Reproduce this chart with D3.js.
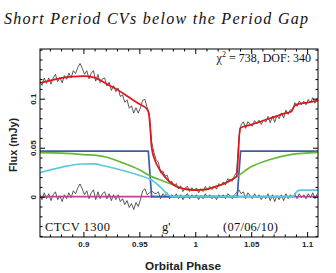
<!DOCTYPE html>
<html><head><meta charset="utf-8">
<script src="https://cdn.jsdelivr.net/npm/d3@7"></script>
<style>body{margin:0;background:#fff}svg{display:block}</style>
</head><body><svg id="c" width="336" height="273"></svg>
<script>
// ---- data ----
const xTicks = [0.9, 0.95, 1, 1.05, 1.1];
const yTicks = [0, 0.05, 0.1];
const title = "Short Period CVs below the Period Gap";
const xLabel = "Orbital Phase";
const yLabel = "Flux (mJy)";

// total model (red)
const redPhase = [0.861,0.870,0.880,0.890,0.900,0.910,0.920,0.930,0.940,0.950,0.956,0.958,0.959,0.960,0.961,0.964,0.968,0.973,0.978,0.983,0.990,1.000,1.010,1.016,1.025,1.032,1.037,1.0385,1.040,1.050,1.067,1.080,1.086,1.088,1.090,1.100,1.110];
const redFlux  = [0.116,0.1185,0.121,0.1225,0.123,0.1215,0.1155,0.1095,0.102,0.0945,0.0905,0.087,0.080,0.065,0.050,0.037,0.028,0.020,0.0145,0.0105,0.008,0.0068,0.0075,0.0095,0.013,0.017,0.021,0.045,0.070,0.0735,0.080,0.085,0.087,0.0915,0.094,0.096,0.098];
// white dwarf (blue)
const wdPhase = [0.861,0.958,0.961,1.0375,1.0405,1.110];
const wdFlux  = [0.0465,0.0465,0,0,0.0465,0.0465];
// disc (green)
const discPhase = [0.861,0.880,0.900,0.919,0.934,0.949,0.960,0.973,0.983,0.990,1.000,1.010,1.016,1.025,1.037,1.050,1.067,1.085,1.110];
const discFlux  = [0.045,0.0445,0.043,0.0408,0.035,0.028,0.021,0.0153,0.011,0.008,0.0068,0.0075,0.0095,0.013,0.0204,0.0306,0.038,0.043,0.0453];
// bright spot (cyan)
const bsPhase = [0.861,0.880,0.898,0.910,0.919,0.949,0.961,0.970,0.976,0.980,1.0875,1.089,1.091,1.094,1.110];
const bsFlux  = [0.0245,0.030,0.0334,0.0335,0.0313,0.0221,0.017,0.0085,0.0017,0,0,0.003,0.0055,0.0068,0.0068];
// zero line for residuals (magenta)
const zeroPhase = [0.861, 1.110];
const zeroFlux = [0, 0];

// observed light curve (black)
const obsPhase = [0.861,0.863,0.865,0.867,0.869,0.871,0.873,0.875,0.877,0.879,0.881,0.883,0.885,0.887,0.889,0.891,0.893,0.895,0.897,0.899,0.901,0.903,0.905,0.907,0.909,0.911,0.913,0.915,0.917,0.919,0.921,0.923,0.925,0.927,0.929,0.931,0.933,0.935,0.937,0.939,0.941,0.943,0.945,0.947,0.949,0.951,0.953,0.955,0.957,0.959,0.961,0.963,0.965,0.967,0.969,0.971,0.973,0.975,0.977,0.979,0.981,0.983,0.985,0.987,0.989,0.991,0.993,0.995,0.997,0.999,1.001,1.003,1.005,1.007,1.009,1.011,1.013,1.015,1.017,1.019,1.021,1.023,1.025,1.027,1.029,1.031,1.033,1.035,1.037,1.039,1.041,1.043,1.045,1.047,1.049,1.051,1.053,1.055,1.057,1.059,1.061,1.063,1.065,1.067,1.069,1.071,1.073,1.075,1.077,1.079,1.081,1.083,1.085,1.087,1.089,1.091,1.093,1.095,1.097,1.099,1.101,1.103,1.105,1.107,1.109];
const obsFlux = [0.118,0.1136,0.1211,0.1157,0.1212,0.1148,0.1213,0.1248,0.1173,0.1218,0.1162,0.1235,0.1198,0.1261,0.1214,0.1286,0.1257,0.1318,0.1359,0.131,0.1249,0.1286,0.1203,0.126,0.1287,0.1179,0.1247,0.1165,0.1203,0.1211,0.1129,0.1167,0.1085,0.1133,0.1071,0.1108,0.1023,0.1038,0.0963,0.0988,0.0903,0.0928,0.0853,0.0908,0.0853,0.0908,0.0985,0.0992,0.0908,0.084,0.056,0.0453,0.0378,0.0353,0.0244,0.0262,0.021,0.0218,0.0136,0.0157,0.0111,0.0135,0.0078,0.0111,0.0053,0.0089,0.0106,0.0054,0.0091,0.0059,0.0089,0.004,0.0082,0.0053,0.0104,0.0068,0.0105,0.0072,0.0109,0.0077,0.0134,0.0112,0.015,0.0121,0.0183,0.0174,0.0158,0.0214,0.025,0.0603,0.0734,0.0764,0.0698,0.0765,0.0742,0.0719,0.0776,0.0743,0.078,0.0737,0.0784,0.0761,0.0818,0.0755,0.0823,0.076,0.0828,0.0796,0.0854,0.0802,0.0883,0.084,0.0887,0.0883,0.0958,0.0922,0.0976,0.094,0.0974,0.0938,0.0992,0.0956,0.101,0.0954,0.1008];
// residuals (black, around zero)
const resid = [0.002,-0.003,0.004,-0.002,0.003,-0.004,0.002,0.005,-0.003,0.001,-0.005,0.002,-0.002,0.004,-0.001,0.006,0.003,0.009,0.013,0.008,0.002,0.006,-0.002,0.004,0.007,-0.003,0.005,-0.002,0.003,0.005,-0.002,0.003,-0.004,0.002,-0.003,0.002,-0.005,-0.002,-0.008,-0.004,-0.011,-0.007,-0.013,-0.006,-0.010,-0.003,0.006,0.008,0.002,0.004,0.006,0.004,0.003,0.005,-0.002,0.003,0.001,0.004,-0.002,0.002,-0.001,0.003,-0.002,0.002,-0.003,0.001,0.003,-0.002,0.002,-0.001,0.002,-0.003,0.001,-0.002,0.003,-0.001,0.002,-0.002,0.001,-0.003,0.002,-0.001,0.002,-0.002,0.003,0.001,-0.002,0.002,0.004,0.007,0.003,0.005,-0.002,0.004,0.001,-0.002,0.003,-0.001,0.002,-0.003,0.001,-0.002,0.003,-0.004,0.002,-0.005,0.001,-0.003,0.002,-0.004,0.003,-0.002,0.002,-0.001,0.003,-0.002,0.003,-0.001,0.002,-0.002,0.003,-0.001,0.004,-0.002,0.003];

// ---- drawing ----
const m = {l: 40, r: 318, t: 49, b: 237};
const svg = d3.select("#c");
const x = d3.scaleLinear().domain([0.8612, 1.1097]).range([m.l, m.r]);
const y = d3.scaleLinear().domain([-0.0411, 0.1507]).range([m.b, m.t]);

svg.append("defs").append("clipPath").attr("id","clip")
  .append("rect").attr("x",m.l).attr("y",m.t).attr("width",m.r-m.l).attr("height",m.b-m.t);

const g = svg.append("g").attr("clip-path","url(#clip)");
const line = (px, py, curve) => d3.line().x((d,i)=>x(px[i])).y((d,i)=>y(py[i])).curve(curve)(py);

g.append("path").attr("d", line(obsPhase, obsFlux, d3.curveLinear))
  .attr("fill","none").attr("stroke","#303030").attr("stroke-width",0.8);
g.append("path").attr("d", line(obsPhase, resid, d3.curveLinear))
  .attr("fill","none").attr("stroke","#303030").attr("stroke-width",0.8);

const models = [
  [zeroPhase, zeroFlux, "#b8449c", d3.curveLinear],
  [wdPhase, wdFlux, "#3c5ea8", d3.curveLinear],
  [bsPhase, bsFlux, "#5ec8de", d3.curveMonotoneX],
  [discPhase, discFlux, "#66b83a", d3.curveMonotoneX],
  [redPhase, redFlux, "#e0161c", d3.curveMonotoneX]
];
models.forEach(([px, py, col, cv]) => {
  g.append("path").attr("d", line(px, py, cv))
    .attr("fill","none").attr("stroke",col).attr("stroke-width",1.7);
});

// frame
svg.append("rect").attr("x",m.l).attr("y",m.t).attr("width",m.r-m.l).attr("height",m.b-m.t)
  .attr("fill","none").attr("stroke","#000").attr("stroke-width",1);

// ticks (inward)
const xMinor = d3.range(87, 111).map(d => d/100).filter(v => !xTicks.some(t => Math.abs(t-v) < 1e-9));
const yMinor = d3.range(-4, 16).map(d => d/100).filter(v => !yTicks.some(t => Math.abs(t-v) < 1e-9));
const tickFont = "'Liberation Sans', Arial, sans-serif";

function styleAxis(sel){ sel.select(".domain").remove(); sel.selectAll("line").attr("stroke","#000").attr("stroke-width",1); }

const xb = svg.append("g").attr("transform",`translate(0,${m.b})`)
  .call(d3.axisBottom(x).tickValues(xTicks).tickSize(-5).tickPadding(4).tickFormat(d => String(d)));
styleAxis(xb);
xb.selectAll("text").attr("font-family",tickFont).attr("font-size",8).attr("font-weight","bold").attr("fill","#222");
svg.append("g").attr("transform",`translate(0,${m.b})`)
  .call(d3.axisBottom(x).tickValues(xMinor).tickSize(-2.5).tickFormat("")).call(styleAxis);
svg.append("g").attr("transform",`translate(0,${m.t})`)
  .call(d3.axisTop(x).tickValues(xTicks).tickSize(-5).tickFormat("")).call(styleAxis);
svg.append("g").attr("transform",`translate(0,${m.t})`)
  .call(d3.axisTop(x).tickValues(xMinor).tickSize(-2.5).tickFormat("")).call(styleAxis);

const yl = svg.append("g").attr("transform",`translate(${m.l},0)`)
  .call(d3.axisLeft(y).tickValues(yTicks).tickSize(-5).tickFormat(d => String(d)));
styleAxis(yl);
yl.selectAll("text").attr("x",null).attr("dy",null).attr("text-anchor","middle")
  .attr("transform","translate(-4,0) rotate(-90)")
  .attr("font-family",tickFont).attr("font-size",8).attr("font-weight","bold").attr("fill","#222");
svg.append("g").attr("transform",`translate(${m.l},0)`)
  .call(d3.axisLeft(y).tickValues(yMinor).tickSize(-2.5).tickFormat("")).call(styleAxis);
svg.append("g").attr("transform",`translate(${m.r},0)`)
  .call(d3.axisRight(y).tickValues(yTicks).tickSize(-5).tickFormat("")).call(styleAxis);
svg.append("g").attr("transform",`translate(${m.r},0)`)
  .call(d3.axisRight(y).tickValues(yMinor).tickSize(-2.5).tickFormat("")).call(styleAxis);

// axis titles
svg.append("text").attr("x",183).attr("y",270).attr("text-anchor","middle")
  .attr("font-family",tickFont).attr("font-size",10.5).attr("font-weight","bold").attr("fill","#222")
  .attr("textLength",76).attr("lengthAdjust","spacingAndGlyphs").text(xLabel);
svg.append("text").attr("transform","translate(17,145) rotate(-90)").attr("text-anchor","middle")
  .attr("font-family",tickFont).attr("font-size",10).attr("font-weight","bold").attr("fill","#222")
  .attr("textLength",54).attr("lengthAdjust","spacingAndGlyphs").text(yLabel);

// title
svg.append("text").attr("x",4).attr("y",24).attr("font-family","'Liberation Serif','DejaVu Serif',serif")
  .attr("font-style","italic").attr("font-size",16).attr("fill","#111")
  .attr("textLength",304).attr("lengthAdjust","spacing").text(title);

// annotations
const serif = "'Liberation Serif','Times New Roman',serif";
const chi = svg.append("text").attr("x",311).attr("y",61.5).attr("text-anchor","end")
  .attr("font-family",serif).attr("font-size",12).attr("fill","#111");
chi.append("tspan").text("χ");
chi.append("tspan").attr("dy",-5).attr("font-size",8).text("2");
chi.append("tspan").attr("dy",5).text(" = 738, DOF: 340");

svg.append("text").attr("x",45).attr("y",231).attr("font-family",serif).attr("font-size",12.5).attr("fill","#111")
  .attr("textLength",65).attr("lengthAdjust","spacing").text("CTCV 1300");
svg.append("text").attr("x",162).attr("y",231).attr("font-family",serif).attr("font-size",12.5).attr("fill","#111").text("g'");
svg.append("text").attr("x",223).attr("y",231).attr("font-family",serif).attr("font-size",12.5).attr("fill","#111")
  .attr("textLength",55).attr("lengthAdjust","spacing").text("(07/06/10)");
</script></body></html>
